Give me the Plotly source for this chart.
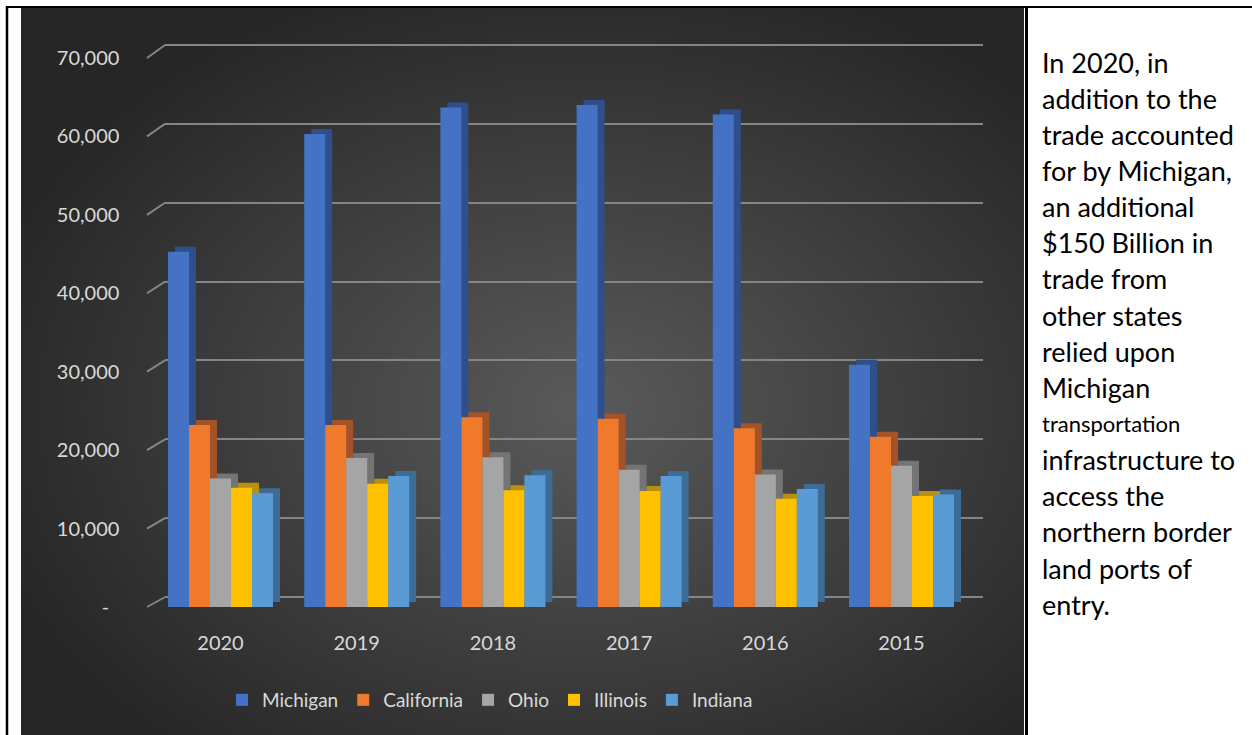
import base64
import plotly.graph_objects as go

# ---------------- data ----------------
years = ["2020", "2019", "2018", "2017", "2016", "2015"]
michigan = [45300, 60300, 63700, 64000, 62800, 30900]
california = [23200, 23200, 24200, 24000, 22800, 21700]
ohio = [16400, 19000, 19100, 17500, 16900, 18000]
illinois = [15200, 15700, 14900, 14800, 13800, 14150]
indiana = [14500, 16700, 16800, 16700, 15050, 14350]
series_names = ["Michigan", "California", "Ohio", "Illinois", "Indiana"]
series_values = [michigan, california, ohio, illinois, indiana]
tick_values = [0, 10000, 20000, 30000, 40000, 50000, 60000, 70000]
side_text = ["In 2020, in", "addition to the", "trade accounted", "for by Michigan,",
             "an additional", "$150 Billion in", "trade from", "other states",
             "relied upon", "Michigan", "transportation", "infrastructure to",
             "access the", "northern border", "land ports of", "entry."]

# ---------------- style ----------------
W, H = 1252, 735
front_colors = ["#4472C4", "#F07A2B", "#A5A5A5", "#FFC000", "#5B9BD5"]
side_colors = ["#2E4F8C", "#A3532A", "#747474", "#B8900F", "#3D6C96"]
FONT = "Lato"
LBL = "#D9D9D9"
GRID = "#858585"

def px_x(p):
    return p / W

def px_y(p):
    return 1 - p / H

# front plane (bars): 0 at 607 px, 70000 at 58 px
f0, f70 = 607, 58
k_front = (f0 - f70) / 70000.0
# back plane (gridlines): 0 at 597 px, 70000 at 45 px
b0, b70 = 597, 45
k_back = (b0 - b70) / 70000.0
pad = 500
grid_dom = [px_y(b0 + pad * k_back), px_y(b70 - pad * k_back)]

# categories: bar plane from 152.4 to 969.6 px
x_start, x_end = 152.4, 969.6
cat_px = (x_end - x_start) / len(years)
bar_w = 21 / cat_px
depth_x = 7 / cat_px
depth_y = 5 / k_front

fig = go.Figure()

# dummy trace to create the gridline (back wall) subplot
fig.add_trace(go.Scatter(x=[0.5], y=[0], mode="markers", marker=dict(opacity=0),
                         hoverinfo="skip", showlegend=False, xaxis="x", yaxis="y"))

# back (depth) faces
for i, (name, vals) in enumerate(zip(series_names, series_values)):
    fig.add_trace(go.Bar(
        x=years, y=vals, base=depth_y, width=bar_w,
        offset=-2.5 * bar_w + i * bar_w + depth_x,
        marker=dict(color=side_colors[i], line=dict(width=0)),
        showlegend=False, hoverinfo="skip", xaxis="x2", yaxis="y2"))

# front faces
for i, (name, vals) in enumerate(zip(series_names, series_values)):
    fig.add_trace(go.Bar(
        x=years, y=vals, name=name, width=bar_w,
        offset=-2.5 * bar_w + i * bar_w,
        marker=dict(color=front_colors[i], line=dict(width=0)),
        xaxis="x2", yaxis="y2"))

# background radial gradient for the chart cell
cx0, cy0, cx1, cy1 = 21, 8, 1024, 735
bw, bh = cx1 - cx0, cy1 - cy0
svg = f'''<svg xmlns="http://www.w3.org/2000/svg" width="{bw}" height="{bh}" viewBox="0 0 {bw} {bh}" preserveAspectRatio="none">
<defs><radialGradient id="g" cx="0.56" cy="0.55" r="0.62" gradientUnits="objectBoundingBox">
<stop offset="0" stop-color="#5A5A5A"/><stop offset="1" stop-color="#262626"/></radialGradient></defs>
<rect width="{bw}" height="{bh}" fill="url(#g)"/></svg>'''
src = "data:image/svg+xml;base64," + base64.b64encode(svg.encode()).decode()

shapes = []
# connectors between front tick plane and back wall
for t in tick_values:
    shapes.append(dict(type="line", xref="paper", yref="paper",
                       x0=px_x(147), y0=px_y(f0 - t * k_front),
                       x1=px_x(165), y1=px_y(b0 - t * k_back),
                       line=dict(color=GRID, width=2)))
# table borders
shapes += [
    dict(type="line", xref="paper", yref="paper", x0=px_x(7), x1=px_x(7), y0=0, y1=px_y(6),
         line=dict(color="black", width=2.5)),
    dict(type="line", xref="paper", yref="paper", x0=px_x(6), x1=1, y0=px_y(7), y1=px_y(7),
         line=dict(color="black", width=2)),
    dict(type="line", xref="paper", yref="paper", x0=px_x(1026.5), x1=px_x(1026.5), y0=0, y1=px_y(6),
         line=dict(color="black", width=3)),
]

annotations = []
line0, line_step = 62, 36.15
for j, line in enumerate(side_text):
    size = 22 if line == "transportation" else 27
    annotations.append(dict(text=line, xref="paper", yref="paper", x=px_x(1040),
                            y=px_y(line0 + j * line_step), xanchor="left", yanchor="middle",
                            showarrow=False, font=dict(family=FONT, size=size, color="black")))

tick_text = [f"{v:,}" if v else "-\u00a0\u00a0" for v in tick_values]

fig.update_layout(
    width=W, height=H,
    margin=dict(l=0, r=0, t=0, b=0, pad=0, autoexpand=False),
    paper_bgcolor="white", plot_bgcolor="rgba(0,0,0,0)",
    barmode="overlay",
    font=dict(family=FONT, color=LBL, size=20),
    images=[dict(source=src, xref="paper", yref="paper", x=px_x(cx0), y=px_y(cy0),
                 sizex=bw / W, sizey=bh / H, sizing="stretch", layer="below",
                 xanchor="left", yanchor="top")],
    xaxis=dict(domain=[px_x(165), px_x(983)], range=[0, 1], visible=False, anchor="y",
               automargin=False),
    yaxis=dict(domain=grid_dom, range=[-pad, 70000 + pad], anchor="x", automargin=False,
               tickvals=tick_values, showticklabels=False, showgrid=True,
               gridcolor=GRID, gridwidth=2, zeroline=False, showline=False, ticks=""),
    xaxis2=dict(domain=[px_x(x_start), px_x(x_end)], anchor="y2", type="category",
                categoryorder="array", categoryarray=years, automargin=False,
                showgrid=False, zeroline=False, showline=False, ticks="",
                tickfont=dict(family=FONT, size=20, color=LBL), ticklabelstandoff=22),
    yaxis2=dict(domain=[px_y(f0), px_y(f70)], anchor="x2", range=[0, 70000], automargin=False,
                tickvals=tick_values, ticktext=tick_text,
                showgrid=False, zeroline=False, showline=False, ticks="",
                tickfont=dict(family=FONT, size=20, color=LBL), ticklabelstandoff=32),
    legend=dict(orientation="h", x=px_x(490), xanchor="center", y=px_y(700), yanchor="middle",
                font=dict(family=FONT, size=19, color=LBL), bgcolor="rgba(0,0,0,0)",
                itemclick=False, itemdoubleclick=False),
    shapes=shapes,
    annotations=annotations,
    showlegend=True,
)

fig.write_html("out.html", config={"displayModeBar": False},
               post_script="document.body.style.margin='0px';")
